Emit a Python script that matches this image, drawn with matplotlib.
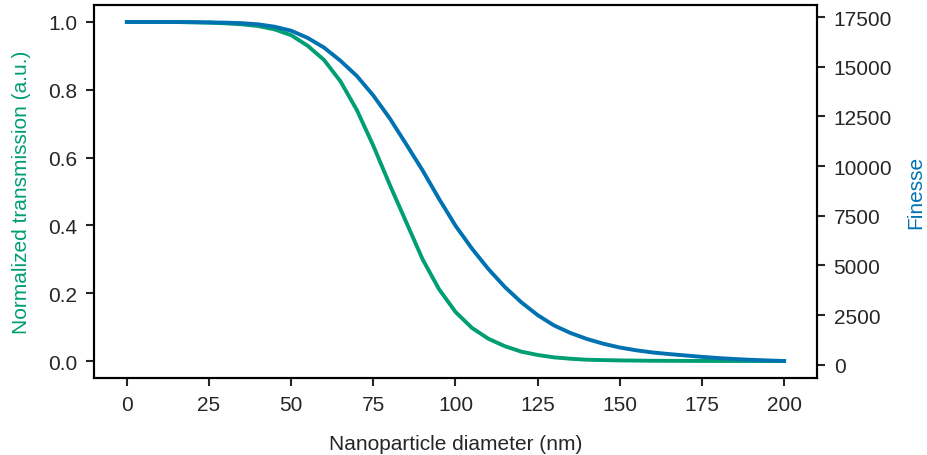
import matplotlib
matplotlib.use("Agg")
import matplotlib.pyplot as plt

plt.rcParams['font.family'] = ['Liberation Sans', 'DejaVu Sans']

# diameter (nm)
diameter = [0, 5, 10, 15, 20, 25, 30, 35, 40, 45, 50, 55, 60, 65, 70, 75, 80, 85, 90, 95,
            100, 105, 110, 115, 120, 125, 130, 135, 140, 145, 150, 155, 160, 165, 170, 175,
            180, 185, 190, 195, 200]
# normalized transmission (left axis)
transmission = [1.0, 1.0, 1.0, 1.0, 0.999, 0.998, 0.996, 0.993, 0.988, 0.978, 0.961, 0.93,
                0.888, 0.825, 0.74, 0.635, 0.52, 0.41, 0.30, 0.212, 0.145, 0.098, 0.066,
                0.044, 0.028, 0.018, 0.011, 0.007, 0.004, 0.003, 0.002, 0.0015, 0.001,
                0.0008, 0.0006, 0.0005, 0.0004, 0.0003, 0.0003, 0.0002, 0.0002]
# finesse (right axis)
finesse = [17250, 17250, 17250, 17247, 17240, 17230, 17215, 17190, 17130, 17010, 16810,
           16450, 15960, 15300, 14530, 13550, 12400, 11100, 9780, 8350, 7000, 5850, 4820,
           3920, 3150, 2500, 1980, 1600, 1300, 1060, 870, 730, 620, 540, 470, 400, 340,
           290, 250, 220, 190]

green = '#009E73'
blue = '#0072B2'
txt = '#262626'

fig = plt.figure(figsize=(9.27, 4.56), dpi=100)
ax = fig.add_axes([0.1014, 0.1689, 0.7799, 0.8179])
ax2 = ax.twinx()

ax.plot(diameter, transmission, color=green, lw=2.8)
ax2.plot(diameter, finesse, color=blue, lw=2.8)

ax.set_xlim(-10, 210)
ax.set_xticks([0, 25, 50, 75, 100, 125, 150, 175, 200])
ax.set_yticks([0.0, 0.2, 0.4, 0.6, 0.8, 1.0])
ax2.set_yticks([0, 2500, 5000, 7500, 10000, 12500, 15000, 17500])

for a in (ax, ax2):
    for s in a.spines.values():
        s.set_linewidth(1.5)
        s.set_color('black')
    a.tick_params(axis='both', length=6, width=1.5, labelsize=15, colors=txt, pad=6)

ax.set_xlabel('Nanoparticle diameter (nm)', fontsize=15, color=txt)
ax.set_ylabel('Normalized transmission (a.u.)', fontsize=15, color=green)
ax2.set_ylabel('Finesse', fontsize=15, color=blue)
ax.xaxis.set_label_coords(0.5, -0.15)
ax.yaxis.set_label_coords(-0.087, 0.5)
ax2.yaxis.set_label_coords(1.124, 0.5)

fig.savefig('out.png', dpi=100)
